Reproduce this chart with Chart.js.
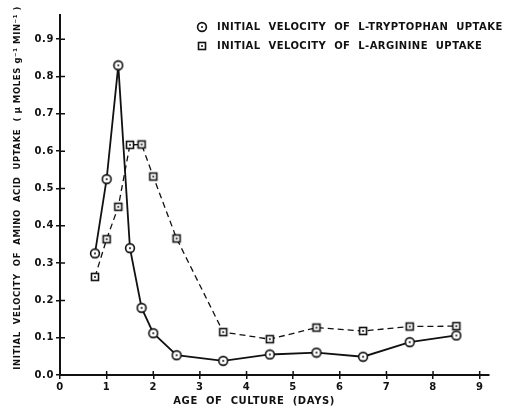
<!DOCTYPE html>
<html>
<head>
<meta charset="utf-8">
<script src="https://cdn.jsdelivr.net/npm/chart.js@4/dist/chart.umd.min.js"></script>
<style>
  html, body { margin: 0; padding: 0; background: #fff; }
  canvas { display: block; }
</style>
</head>
<body>
<canvas id="uptakeChart" width="511" height="408"></canvas>
<script>
/* data */
const days       = [0.75, 1, 1.25, 1.5, 1.75, 2, 2.5, 3.5, 4.5, 5.5, 6.5, 7.5, 8.5];
const tryptophan = [0.326, 0.525, 0.83, 0.34, 0.18, 0.112, 0.053, 0.038, 0.055, 0.06, 0.049, 0.088, 0.106];
const arginine   = [0.263, 0.364, 0.451, 0.617, 0.618, 0.532, 0.366, 0.115, 0.096, 0.127, 0.118, 0.13, 0.131];
const xTicks = [0, 1, 2, 3, 4, 5, 6, 7, 8, 9];
const yTicks = [0, 0.1, 0.2, 0.3, 0.4, 0.5, 0.6, 0.7, 0.8, 0.9];

const INK = "#111";
const FONT = "'DejaVu Sans', sans-serif";

function markerCanvas(kind) {
  const c = document.createElement("canvas");
  c.width = 12; c.height = 12;
  const g = c.getContext("2d");
  g.fillStyle = "#fff";
  g.strokeStyle = INK;
  g.lineWidth = 1.6;
  if (kind === "circle") {
    g.beginPath(); g.arc(6, 6, 4.4, 0, Math.PI * 2); g.fill(); g.stroke();
  } else {
    g.fillRect(2.5, 2.5, 7, 7); g.strokeRect(2.5, 2.5, 7, 7);
  }
  g.fillStyle = INK;
  g.beginPath(); g.arc(6, 6, 1, 0, Math.PI * 2); g.fill();
  return c;
}
const circleMark = markerCanvas("circle");
const squareMark = markerCanvas("square");

const pts = vals => days.map((d, i) => ({ x: d, y: vals[i] }));

const spacing = {
  id: "spacing",
  beforeDraw(chart) { chart.ctx.letterSpacing = "0.6px"; }
};

const innerTicks = {
  id: "innerTicks",
  afterDraw(chart) {
    const { ctx, scales: { x, y } } = chart;
    ctx.save();
    ctx.strokeStyle = INK;
    ctx.lineWidth = 1.5;
    ctx.beginPath();
    xTicks.forEach(v => { const px = x.getPixelForValue(v); ctx.moveTo(px, y.bottom); ctx.lineTo(px, y.bottom - 4); });
    yTicks.forEach(v => { const py = y.getPixelForValue(v); ctx.moveTo(x.left, py); ctx.lineTo(x.left + 5, py); });
    ctx.stroke();
    ctx.restore();
  }
};

const figLegend = {
  id: "figLegend",
  afterDraw(chart) {
    const ctx = chart.ctx;
    ctx.save();
    ctx.letterSpacing = "0.45px";
    ctx.font = "bold 10px " + FONT;
    ctx.fillStyle = INK;
    ctx.textBaseline = "middle";
    chart.data.datasets.forEach((ds, i) => {
      const yy = 27 + i * 19;
      ctx.drawImage(ds.pointStyle, 202 - 6, yy - 6);
      ctx.fillText(ds.label, 217, yy);
    });
    ctx.restore();
  }
};

new Chart(document.getElementById("uptakeChart"), {
  type: "line",
  data: {
    datasets: [
      {
        label: "INITIAL  VELOCITY  OF  L-TRYPTOPHAN  UPTAKE",
        data: pts(tryptophan),
        borderColor: INK, borderWidth: 1.8,
        pointStyle: circleMark, pointRadius: 6,
        tension: 0
      },
      {
        label: "INITIAL  VELOCITY  OF  L-ARGININE  UPTAKE",
        data: pts(arginine),
        borderColor: INK, borderWidth: 1.3, borderDash: [6, 4],
        pointStyle: squareMark, pointRadius: 6,
        tension: 0
      }
    ]
  },
  options: {
    responsive: false,
    animation: false,
    layout: { padding: { top: 15, right: 22, left: 0, bottom: 0 } },
    plugins: { legend: { display: false }, tooltip: { enabled: false } },
    scales: {
      x: {
        type: "linear", min: 0, max: 9.2,
        afterBuildTicks: s => { s.ticks = xTicks.map(v => ({ value: v })); },
        afterFit: s => { s.height = 33; },
        border: { color: INK, width: 2 },
        grid: { drawOnChartArea: false, color: INK, lineWidth: 1.5, tickLength: 4 },
        ticks: { color: INK, font: { family: FONT, size: 10, weight: "bold" }, padding: 2, maxRotation: 0 },
        title: {
          display: true,
          text: "AGE  OF  CULTURE  (DAYS)" + "\u00a0".repeat(10),
          color: INK, font: { family: FONT, size: 10, weight: "bold" },
          padding: { top: 0, bottom: 1 }
        }
      },
      y: {
        type: "linear", min: 0, max: 0.965,
        afterBuildTicks: s => { s.ticks = yTicks.map(v => ({ value: v })); },
        afterFit: s => { s.width = 60; },
        border: { color: INK, width: 2 },
        grid: { drawOnChartArea: false, color: INK, lineWidth: 1.5, tickLength: 4 },
        ticks: { color: INK, font: { family: FONT, size: 10, weight: "bold" }, padding: 2, callback: v => v.toFixed(1) },
        title: {
          display: true,
          text: "\u00a0\u00a0\u00a0\u00a0INITIAL  VELOCITY  OF  AMINO  ACID  UPTAKE  ( \u03bc MOLES g\u207b\u00b9 MIN\u207b\u00b9 )",
          color: INK, font: { family: FONT, size: 8.5, weight: "bold" },
          padding: { top: 13, bottom: 0 }
        }
      }
    }
  },
  plugins: [spacing, innerTicks, figLegend]
});
</script>
</body>
</html>
